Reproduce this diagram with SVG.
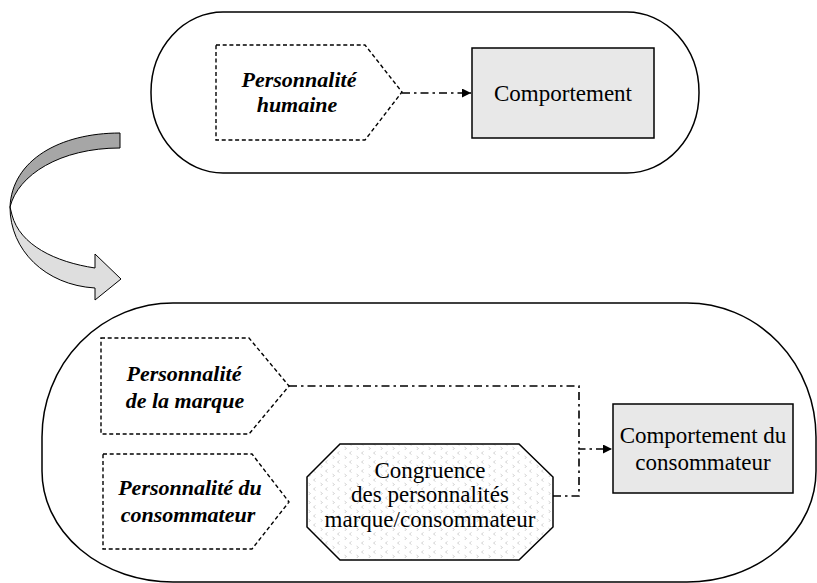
<svg xmlns="http://www.w3.org/2000/svg" width="817" height="583" viewBox="0 0 817 583">
<style>
.cap{fill:#fff;stroke:#000;stroke-width:1.5}
.pent{fill:#fff;stroke:#000;stroke-width:1.4;stroke-dasharray:4 2.7}
.box{fill:#e8e8e8;stroke:#000;stroke-width:1.5}
.conn{fill:none;stroke:#000;stroke-width:1.6;stroke-dasharray:8 4 2.5 4}
.bi{font-family:"Liberation Serif","Times New Roman",serif;font-weight:bold;font-style:italic;font-size:22px;fill:#000;text-anchor:middle}
.rg{font-family:"Liberation Serif","Times New Roman",serif;font-size:23px;fill:#000;text-anchor:middle}
</style>
<defs>
<marker id="ah" viewBox="0 0 10 10" refX="10" refY="5" markerWidth="10" markerHeight="9" markerUnits="userSpaceOnUse" orient="auto">
<path d="M0,0 L10,5 L0,10 Z" fill="#000"/>
</marker>
<pattern id="chev" width="12" height="9" patternUnits="userSpaceOnUse">
<rect width="12" height="9" fill="#fff"/>
<path d="M3.5,1.5 L1.5,3 L3.5,4.5 M8.5,6 L10.5,7.5 L8.5,9" fill="none" stroke="#c8c8c8" stroke-width="0.8"/>
</pattern>
</defs>

<g id="top-frame">
<rect class="cap" x="151" y="12" width="548" height="161" rx="72" ry="80"/>
</g>

<g id="curved-arrow">
<path d="M120,133 C60,133 12,160 10,207 C18,175 60,148 120,148 Z" fill="#a6a6a6" stroke="#000" stroke-width="1"/>
<path d="M10,207 C10,250 45,285 95,288 L95,300 L121,279 L95,254 L95,268 C55,262 20,245 12,215 Z" fill="#dedede" stroke="#000" stroke-width="1"/>
</g>

<g id="bottom-frame">
<path class="cap" d="M173,303 L687,303 A129,134 0 0 1 816,437 L816,471 A129,111 0 0 1 687,582 L173,582 A131,111 0 0 1 42,471 L42,437 A131,134 0 0 1 173,303 Z"/>
</g>

<g id="personnalite-humaine">
<polygon class="pent" points="216,45 365,45 402,92 365,140 216,140"/>
<text class="bi" x="299" y="87">Personnalité</text>
<text class="bi" x="297" y="112">humaine</text>
</g>

<g id="comportement">
<rect class="box" x="472" y="48" width="182" height="90"/>
<text class="rg" x="563" y="101">Comportement</text>
</g>

<g id="personnalite-marque">
<polygon class="pent" points="101,338 249,338 289,386 249,434 101,434"/>
<text class="bi" x="184" y="381">Personnalité</text>
<text class="bi" x="185" y="408">de la marque</text>
</g>

<g id="personnalite-consommateur">
<polygon class="pent" points="103,454 252,454 289,502 252,549 103,549"/>
<text class="bi" x="190" y="495">Personnalité du</text>
<text class="bi" x="188" y="522">consommateur</text>
</g>

<g id="congruence">
<polygon points="340,444 519,444 553,477 553,527 519,560 340,560 307,527 307,477" fill="url(#chev)" stroke="#000" stroke-width="1.5"/>
<text class="rg" x="430" y="478">Congruence</text>
<text class="rg" x="430" y="502">des personnalités</text>
<text class="rg" x="430" y="527">marque/consommateur</text>
</g>

<g id="comportement-consommateur">
<rect class="box" x="613" y="404" width="180" height="89"/>
<text class="rg" x="703" y="443">Comportement du</text>
<text class="rg" x="703" y="470">consommateur</text>
</g>

<g id="connectors">
<path class="conn" d="M402,93 H471" marker-end="url(#ah)"/>
<path class="conn" d="M289,386 H579 V449 H612" marker-end="url(#ah)"/>
<path class="conn" d="M553,496 H579 V449"/>
</g>
</svg>
